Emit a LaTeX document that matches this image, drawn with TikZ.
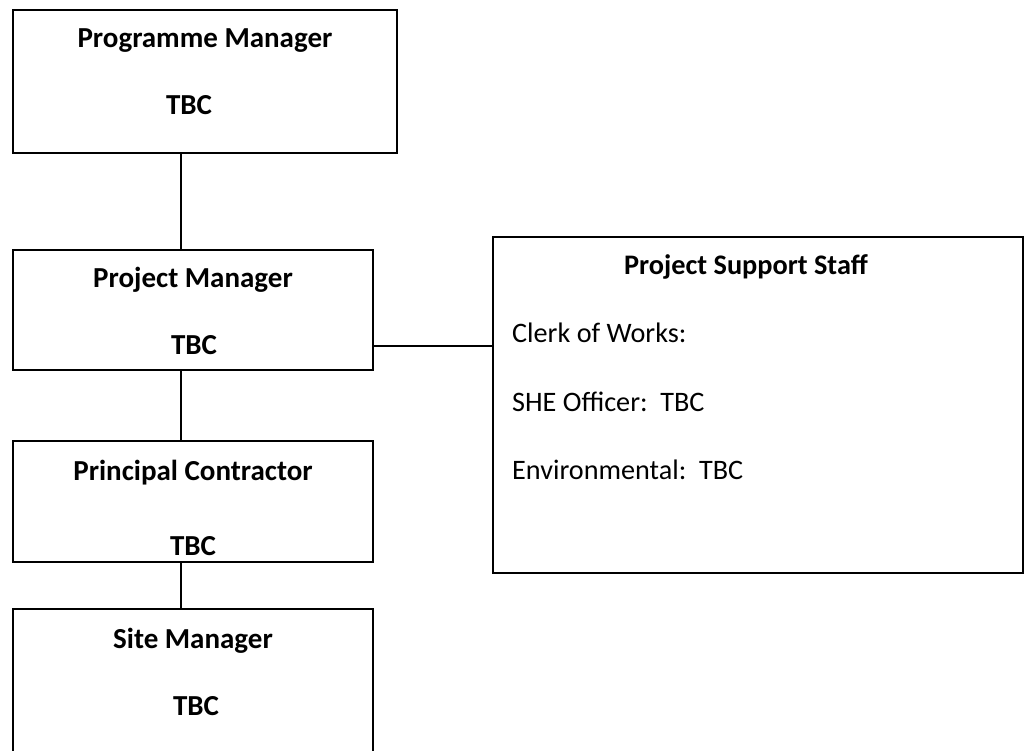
\documentclass[tikz,border=0pt]{standalone}
\usepackage{fontspec}
\setmainfont{Carlito}
\begin{document}
\begin{tikzpicture}[x=1pt,y=-1pt,
  box/.style={draw, line width=1.6pt, inner sep=0pt, outer sep=0pt},
  ttl/.style={anchor=base, inner sep=0pt, font=\bfseries\fontsize{29}{32}\selectfont},
  ttlb/.style={anchor=base, inner sep=0pt, font=\bfseries\fontsize{28.3}{32}\selectfont},
  txt/.style={anchor=base west, inner sep=0pt, font=\fontsize{28.2}{32}\selectfont},
  link/.style={line width=1.6pt}]
\useasboundingbox (0,0) rectangle (1029,751);
\fill[white] (0,0) rectangle (1029,751);
% boxes
\node[box, minimum width=384pt, minimum height=143pt] (b1) at (205,81.5) {};
\node[box, minimum width=360pt, minimum height=120pt] (b2) at (193,310) {};
\node[box, minimum width=360pt, minimum height=121pt] (b3) at (193,501.5) {};
\node[box, minimum width=360pt, minimum height=150pt] (b4) at (193,684) {};
\node[box, minimum width=530pt, minimum height=336pt] (b5) at (758,405) {};
% texts
\node[ttl] (t1a) at (205,48) {Programme Manager};
\node[ttl] (t1b) at (189,115) {TBC};
\node[ttl] (t2a) at (193,288) {Project Manager};
\node[ttl] (t2b) at (194,355) {TBC};
\node[ttl] (t3a) at (193,480) {Principal Contractor};
\node[ttl] (t3b) at (193,555) {TBC};
\node[ttl] (t4a) at (193,648) {Site Manager};
\node[ttl] (t4b) at (196,715) {TBC};
\node[ttlb] (t5a) at (746,275) {Project Support Staff};
\node[txt] (t5b) at (512,343) {Clerk of Works:};
\node[txt] (t5c) at (512,412) {SHE Officer:\ \ TBC};
\node[txt] (t5d) at (512,479) {Environmental:\ \ TBC};
% connectors
\coordinate (spine) at (181,0);
\coordinate (arm) at (0,346);
\draw[link] (b1.south -| spine) -- (b2.north -| spine);
\draw[link] (b2.south -| spine) -- (b3.north -| spine);
\draw[link] (b3.south -| spine) -- (b4.north -| spine);
\draw[link] (b2.east |- arm) -- (b5.west |- arm);
\end{tikzpicture}
\end{document}
